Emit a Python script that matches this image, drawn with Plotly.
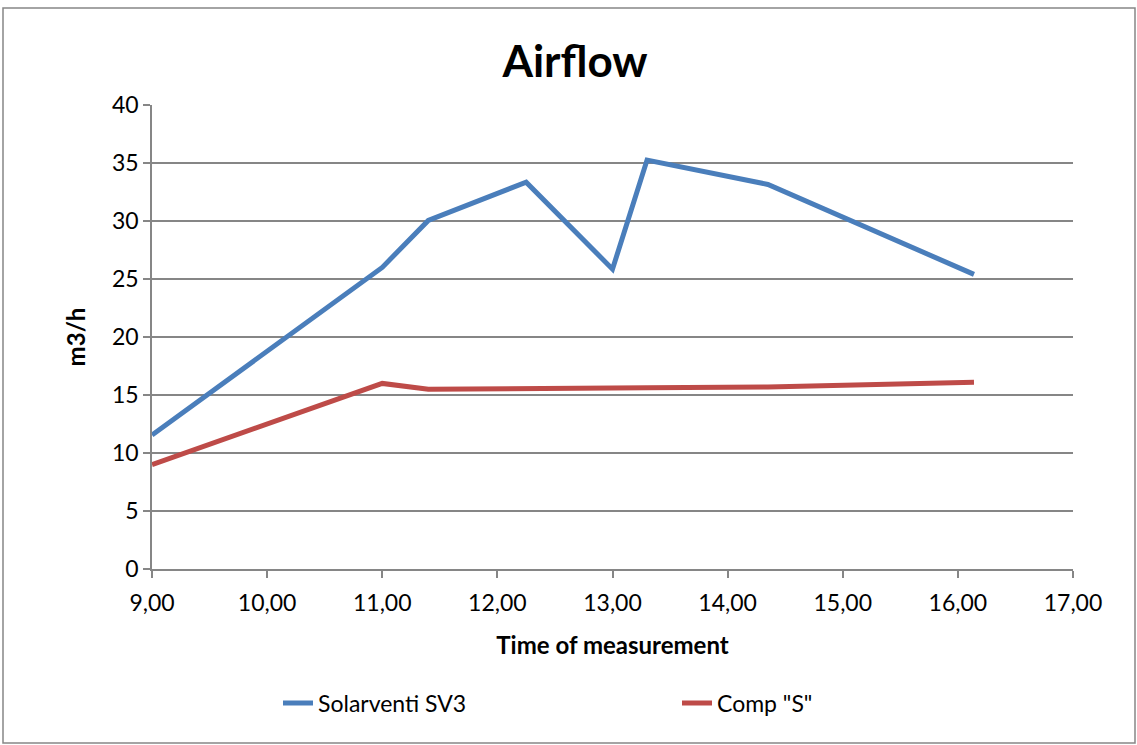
import plotly.graph_objects as go

time_h = [9.00, 11.00, 11.40, 12.25, 13.00, 13.30, 14.35, 16.14]
solarventi_sv3 = [11.55, 26.0, 30.05, 33.35, 25.85, 35.25, 33.15, 25.4]
comp_s = [9.0, 16.0, 15.5, 15.6, 15.6, 15.62, 15.7, 16.1]

x_tickvals = [9, 10, 11, 12, 13, 14, 15, 16, 17]
x_ticktext = ["9,00", "10,00", "11,00", "12,00", "13,00", "14,00", "15,00", "16,00", "17,00"]
y_tickvals = [0, 5, 10, 15, 20, 25, 30, 35, 40]

FONT = "Lato, 'Open Sans', sans-serif"
GRID = "#868686"

L, R, T, B = 152, 1073, 105, 569
PW, PH = R - L, B - T

def px_x(px):
    return (px - L) / PW

def px_y(py):
    return (B - py) / PH

fig = go.Figure()
fig.add_trace(go.Scatter(x=time_h, y=solarventi_sv3, mode="lines", name="Solarventi SV3",
                         line=dict(color="#4A7EBB", width=5), legend="legend"))
fig.add_trace(go.Scatter(x=time_h, y=comp_s, mode="lines", name='Comp "S"',
                         line=dict(color="#BE4B48", width=5), legend="legend2"))

leg_common = dict(orientation="h", yanchor="middle", xanchor="left",
                  font=dict(size=23, family=FONT, color="black"), bgcolor="rgba(0,0,0,0)")

fig.update_layout(
    width=1137, height=745,
    margin=dict(l=L, r=1137 - R, t=T, b=745 - B),
    paper_bgcolor="white", plot_bgcolor="white",
    font=dict(family=FONT, color="black", size=23),
    title=dict(text="<b>Airflow</b>", x=575 / 1137, xanchor="center", y=1 - 62 / 745, yanchor="middle",
               font=dict(size=44, family=FONT, color="black")),
    showlegend=True,
    legend=dict(x=px_x(278), y=px_y(703), **leg_common),
    legend2=dict(x=px_x(677), y=px_y(703), **leg_common),
    xaxis=dict(range=[9, 17], tickvals=x_tickvals, ticktext=x_ticktext,
               showgrid=False, zeroline=False, showline=True, linecolor=GRID, linewidth=1.5,
               ticks="outside", ticklen=7, tickcolor=GRID, tickwidth=1.5, ticklabelstandoff=6,
               title=dict(text="<b>Time of measurement</b>", font=dict(size=24), standoff=22),
               tickfont=dict(size=23)),
    yaxis=dict(range=[0, 40], tickvals=y_tickvals, showgrid=True, gridcolor=GRID, gridwidth=1.5,
               zeroline=False, showline=True, linecolor=GRID, linewidth=1.5,
               ticks="outside", ticklen=7, tickcolor=GRID, tickwidth=1.5,
               title=dict(text="<b>m3/h</b>", font=dict(size=24), standoff=20),
               tickfont=dict(size=23)),
    shapes=[dict(type="rect", xref="paper", yref="paper",
                 x0=px_x(3), x1=px_x(1135),
                 y0=px_y(743), y1=px_y(8),
                 line=dict(color="#868686", width=1.5), fillcolor="rgba(0,0,0,0)", layer="below")],
)

fig.write_html("out.html", config={"displayModeBar": False},
               post_script="document.body.style.margin='0px';")
